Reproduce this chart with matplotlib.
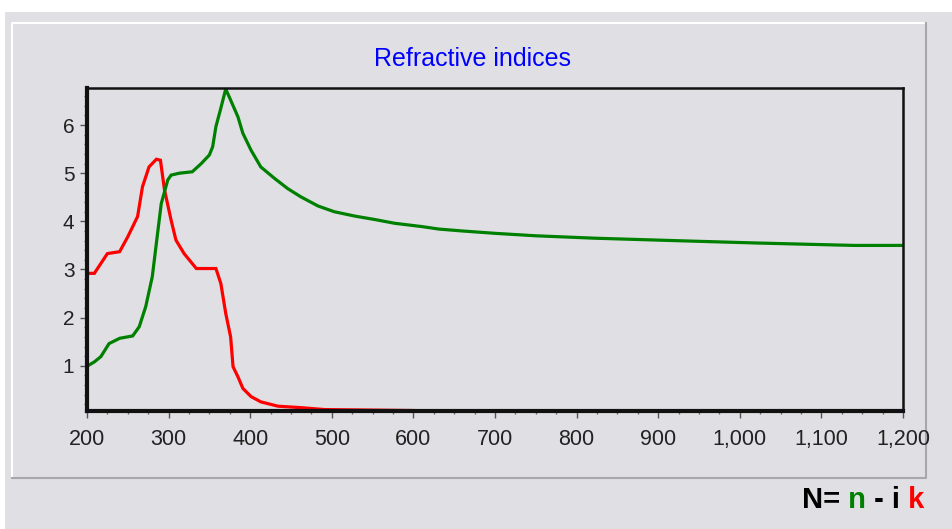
import matplotlib
matplotlib.use("Agg")
import matplotlib.pyplot as plt
from matplotlib.patches import Rectangle
from matplotlib.lines import Line2D
from matplotlib.ticker import MultipleLocator, FuncFormatter

plt.rcParams["font.family"] = ["Liberation Sans", "DejaVu Sans"]

# Wavelength (nm) and refractive index n
n_wavelength = [200, 209, 217, 227, 240, 256, 264, 272, 280, 287, 291, 299, 303, 313,
                329, 340, 350, 354, 358, 364, 370, 376, 385, 391, 401, 413, 430, 446,
                462, 483, 503, 528, 552, 577, 611, 631, 660, 701, 750, 822, 920, 1021,
                1140, 1200]
n_values = [0.99, 1.08, 1.19, 1.46, 1.57, 1.62, 1.81, 2.23, 2.85, 3.82, 4.37, 4.86, 4.96,
            5.00, 5.03, 5.20, 5.38, 5.55, 5.97, 6.35, 6.75, 6.52, 6.17, 5.83, 5.48, 5.13,
            4.89, 4.68, 4.51, 4.32, 4.20, 4.11, 4.04, 3.96, 3.89, 3.84, 3.80, 3.75, 3.70,
            3.65, 3.60, 3.55, 3.50, 3.50]

# Wavelength (nm) and extinction coefficient k
k_wavelength = [200, 209, 225, 240, 250, 262, 268, 276, 285, 290, 295, 303, 309, 319,
                334, 358, 364, 370, 376, 379, 385, 391, 401, 413, 434, 462, 491, 600]
k_values = [2.92, 2.92, 3.33, 3.37, 3.68, 4.10, 4.72, 5.13, 5.29, 5.27, 4.65, 4.03, 3.61,
            3.33, 3.02, 3.02, 2.71, 2.09, 1.60, 0.98, 0.77, 0.53, 0.36, 0.25, 0.16, 0.13,
            0.09, 0.07]

x_ticks = [200, 300, 400, 500, 600, 700, 800, 900, 1000, 1100, 1200]
y_ticks = [1, 2, 3, 4, 5, 6]

W, H = 952, 529
BG = "#e0e0e4"

fig = plt.figure(figsize=(W / 100, H / 100), dpi=100, facecolor="white")

# outer grey frame
fig.patches.append(Rectangle((5 / W, 0), (W - 5) / W, (H - 12) / H,
                             transform=fig.transFigure, facecolor=BG,
                             edgecolor="none", zorder=-2))
# inner raised panel
x0, x1 = 12 / W, 926 / W
y0, y1 = 1 - 478 / H, 1 - 23 / H
fig.lines.append(Line2D([x0, x0, x1], [y0, y1, y1], transform=fig.transFigure,
                        color="white", lw=1.5, zorder=-1))
fig.lines.append(Line2D([x0, x1, x1], [y0, y0, y1], transform=fig.transFigure,
                        color="#a8a8ac", lw=1.5, zorder=-1))

ax = fig.add_axes([87 / W, 1 - 411 / H, (903 - 87) / W, (411 - 88.5) / H])
ax.set_zorder(5)
ax.set_facecolor(BG)

ax.plot(k_wavelength, k_values, color="#ff0000", lw=2.3, solid_joinstyle="miter")
ax.plot(n_wavelength, n_values, color="#008000", lw=2.3, solid_joinstyle="miter")

ax.set_xlim(200, 1200)
ax.set_ylim(0.06, 6.76)

ax.set_xticks(x_ticks)
ax.set_yticks(y_ticks)
ax.xaxis.set_minor_locator(MultipleLocator(25))
ax.yaxis.set_minor_locator(MultipleLocator(0.2))
ax.xaxis.set_major_formatter(FuncFormatter(lambda v, p: f"{int(v):,}"))

ax.tick_params(axis="both", which="major", length=5, width=1, color="#555555",
               labelcolor="#222222")
ax.tick_params(axis="both", which="minor", length=2.5, width=1, color="#666666")
ax.tick_params(axis="x", pad=8, labelsize=15.5)
ax.tick_params(axis="y", pad=4, labelsize=15)

for side, w in (("left", 3), ("bottom", 3), ("top", 1.8), ("right", 1.8)):
    ax.spines[side].set_linewidth(w)
    ax.spines[side].set_color("#111111")

fig.text(473 / W, 1 - 59 / H, "Refractive indices", color="#0000ff",
         fontsize=18, ha="center", va="center")

# complex refractive index notation
parts = [("N=", "black"), (" n", "#008000"), (" - i", "black"), (" k", "#ff0000")]
tx = 802 / W
ty = 1 - 500 / H
renderer = fig.canvas.get_renderer()
for s, c in parts:
    t = fig.text(tx, ty, s, color=c, fontsize=21, fontweight="bold",
                 ha="left", va="center")
    bb = t.get_window_extent(renderer=renderer)
    tx += bb.width / W

fig.savefig("out.png", dpi=100, facecolor="white")
